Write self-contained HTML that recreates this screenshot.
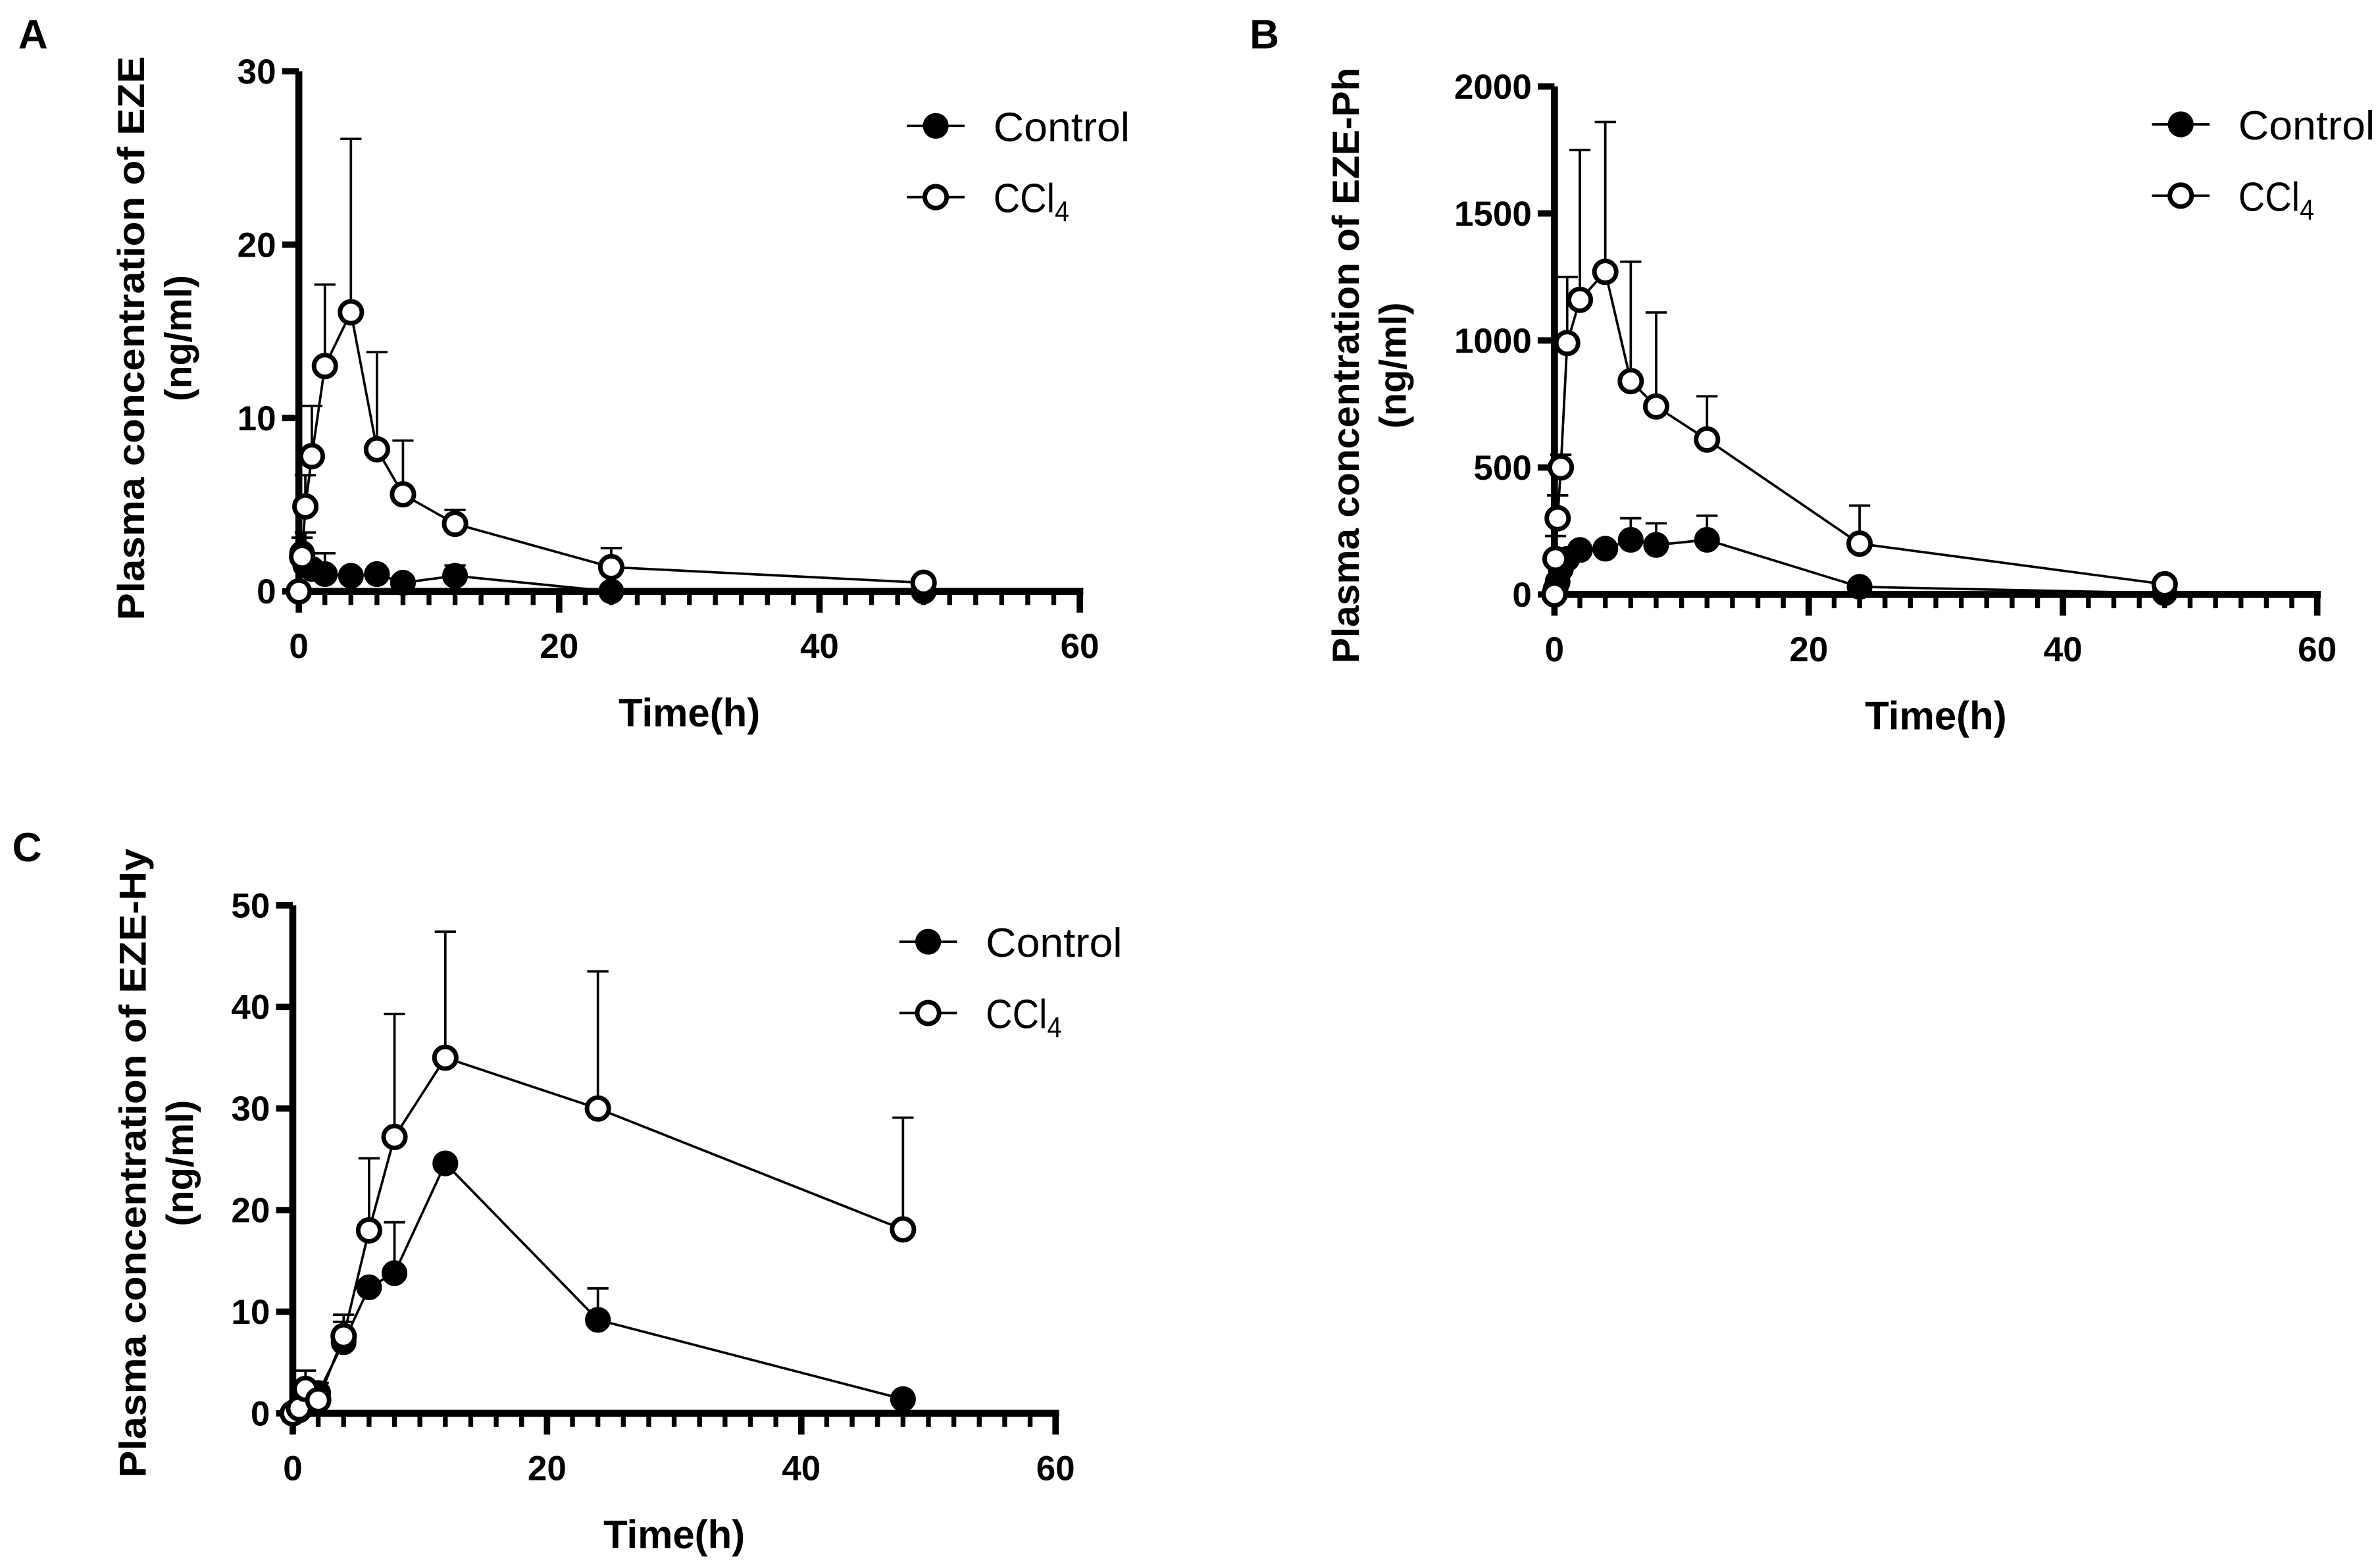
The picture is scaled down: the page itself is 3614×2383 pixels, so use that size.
<!DOCTYPE html>
<html><head><meta charset="utf-8"><style>
html,body{margin:0;padding:0;background:#fff;}
svg{display:block;}
text{font-family:"Liberation Sans",sans-serif;fill:#000;}
</style></head><body>
<svg id="fig" width="3614" height="2383" viewBox="0 0 1568 1034" xmlns="http://www.w3.org/2000/svg">
<rect width="1568" height="1034" fill="#fff"/>
</svg>
<script>
// Panel A (EZE)
const timesA = [0, 0.25, 0.5, 1, 2, 4, 6, 8, 12, 24, 48];
const ctrlA = [0, 2.2, 1.5, 1.3, 1.0, 0.9, 1.0, 0.5, 0.9, 0, 0];
const ctrlErrA = [0, 3.1, 3.4, 2.2, 2.2, 0, 0, 0, 1.5, 0, 0];
const cclA = [0, 2.0, 4.9, 7.8, 13.0, 16.1, 8.2, 5.6, 3.9, 1.4, 0.5];
const cclErrA = [0, 0, 6.7, 10.7, 17.7, 26.1, 13.8, 8.7, 4.7, 2.5, 0];
const yTicksA = [0, 10, 20, 30];
// Panel B (EZE-Ph)
const timesB = [0, 0.083, 0.25, 0.5, 1, 2, 4, 6, 8, 12, 24, 48];
const ctrlB = [0, 20, 50, 100, 140, 175, 180, 215, 195, 215, 30, 5];
const ctrlErrB = [0, 0, 0, 0, 0, 0, 0, 300, 280, 310, 0, 0];
const cclB = [0, 140, 300, 500, 990, 1160, 1270, 840, 740, 610, 200, 40];
const cclErrB = [0, 230, 390, 550, 1250, 1750, 1860, 1310, 1110, 780, 350, 0];
const yTicksB = [0, 500, 1000, 1500, 2000];
// Panel C (EZE-Hy)
const timesC = [0, 0.5, 1, 2, 4, 6, 8, 12, 24, 48];
const ctrlC = [0, 0.3, 0.8, 2.0, 7.0, 12.4, 13.8, 24.6, 9.2, 1.4];
const ctrlErrC = [0, 0, 0, 3.0, 9.0, 0, 18.8, 0, 12.3, 0];
const cclC = [0, 0.5, 2.4, 1.3, 7.6, 18.0, 27.2, 35.0, 30.0, 18.1];
const cclErrC = [0, 0, 4.2, 0, 9.7, 25.1, 39.3, 47.4, 43.5, 29.1];
const yTicksC = [0, 10, 20, 30, 40, 50];
const xTicks = [0, 20, 40, 60];

const NS = 'http://www.w3.org/2000/svg';
const svg = document.getElementById('fig');
function mk(tag, attrs, parent, txt) {
  const e = document.createElementNS(NS, tag);
  for (const k in attrs) e.setAttribute(k, attrs[k]);
  if (txt !== undefined) e.textContent = txt;
  (parent || svg).appendChild(e);
  return e;
}

function panel(cfg) {
  const g = mk('g', {});
  
  
  const xs = v => cfg.x0 + (v / 60) * (cfg.x1 - cfg.x0);
  const ys = v => cfg.y0 - (v / cfg.ymax) * (cfg.y0 - cfg.y1);
  const L = mk('text', {x: cfg.lx, y: cfg.ly, 'font-size': 27, 'font-weight': 'bold'}, g, cfg.letter);
  
  
  const ax = mk('g', {stroke: '#000', 'stroke-width': 4.6, fill: 'none'}, g);
  
  
  mk('line', {x1: cfg.x0, y1: cfg.y0 + 2.3, x2: cfg.x0, y2: cfg.y1}, ax);
  mk('line', {x1: cfg.x0 - 2.3, y1: cfg.y0, x2: cfg.x1 + 2.3, y2: cfg.y0}, ax);
  for (let t = 0; t <= 60; t += 2) {
    const major = t % 20 === 0;
    mk('line', {x1: xs(t), y1: cfg.y0, x2: xs(t), y2: cfg.y0 + (major ? 14 : 9), 'stroke-width': major ? 4.2 : 3.2}, ax);
  }
  xTicks.forEach(t => {
    const tl = mk('text', {x: xs(t), y: cfg.y0 + 44, 'font-size': 23, 'font-weight': 'bold', 'text-anchor': 'middle'}, g, String(t));
    
    
  });
  cfg.yticks.forEach(t => {
    mk('line', {x1: cfg.x0 - 11, y1: ys(t), x2: cfg.x0, y2: ys(t), 'stroke-width': 4.2}, ax);
    const tl = mk('text', {x: cfg.x0 - 15, y: ys(t) + 8, 'font-size': 23, 'font-weight': 'bold', 'text-anchor': 'end'}, g, String(t));
    
    
  });
  const xt = mk('text', {x: (cfg.x0 + cfg.x1) / 2, y: cfg.y0 + 89, 'font-size': 26, 'font-weight': 'bold', 'text-anchor': 'middle'}, g, 'Time(h)');
  
  
  const yt = mk('text', {transform: `translate(${cfg.tx},${cfg.ty}) rotate(-90)`, 'font-size': 25, 'font-weight': 'bold', 'text-anchor': 'middle'}, g);
  
  
  mk('tspan', {x: 0, y: 0, textLength: cfg.tlen, lengthAdjust: 'spacingAndGlyphs'}, yt, cfg.title);
  mk('tspan', {x: 0, y: 31}, yt, '(ng/ml)');

  function series(times, vals, errs, filled, nm) {
    const sg = mk('g', {}, g);
    
    
    times.forEach((t, i) => {
      if (errs[i] > vals[i]) {
        const eg = mk('g', {stroke: '#000', 'stroke-width': 1.6}, sg);
        
        
        mk('line', {x1: xs(t), y1: ys(vals[i]), x2: xs(t), y2: ys(errs[i])}, eg);
        mk('line', {x1: xs(t) - 7, y1: ys(errs[i]), x2: xs(t) + 7, y2: ys(errs[i])}, eg);
      }
    });
    const pts = times.map((t, i) => xs(t) + ',' + ys(vals[i])).join(' ');
    mk('polyline', {points: pts, fill: 'none', stroke: '#000', 'stroke-width': 1.6}, sg);
    times.forEach((t, i) => {
      const c = mk('circle', {cx: xs(t), cy: ys(vals[i]), r: filled ? 8 : 7.2, fill: filled ? '#000' : '#fff', stroke: '#000', 'stroke-width': filled ? 1 : 3}, sg);
      
      
    });
  }
  series(cfg.times, cfg.ctrl, cfg.ctrlErr, true, 'control-series');
  series(cfg.times, cfg.ccl, cfg.cclErr, false, 'ccl4-series');

  const lg = mk('g', {}, g);
  
  
  [[true, 'Control', 0], [false, 'CCl', 47]].forEach(([f, lbl, dy]) => {
    const eg = mk('g', {}, lg);
    
    
    mk('line', {x1: cfg.legx - 19, y1: cfg.legy + dy, x2: cfg.legx + 19, y2: cfg.legy + dy, stroke: '#000', 'stroke-width': 1.6}, eg);
    mk('circle', {cx: cfg.legx, cy: cfg.legy + dy, r: f ? 8 : 7.2, fill: f ? '#000' : '#fff', stroke: '#000', 'stroke-width': f ? 1 : 3}, eg);
    const tx = mk('text', {x: cfg.legx + 38, y: cfg.legy + dy + 10, 'font-size': 27, textLength: f ? 90 : 50, lengthAdjust: 'spacingAndGlyphs'}, eg, lbl);
    if (!f) mk('tspan', {dy: 6, 'font-size': 19}, tx, '4');
  });
}

panel({name: 'panel-a', letter: 'A', lx: 12, ly: 32, x0: 197, x1: 712, y0: 390, y1: 47, ymax: 30, yticks: yTicksA,
  title: 'Plasma concentration of EZE', tx: 95, ty: 223, tlen: 372, times: timesA, ctrl: ctrlA, ctrlErr: ctrlErrA, ccl: cclA, cclErr: cclErrA, legx: 617, legy: 83});
panel({name: 'panel-b', letter: 'B', lx: 824, ly: 32, x0: 1025, x1: 1528, y0: 392, y1: 57, ymax: 2000, yticks: yTicksB,
  title: 'Plasma concentration of EZE-Ph', tx: 896, ty: 241, tlen: 393, times: timesB, ctrl: ctrlB, ctrlErr: ctrlErrB, ccl: cclB, cclErr: cclErrB, legx: 1438, legy: 82});
panel({name: 'panel-c', letter: 'C', lx: 8, ly: 568, x0: 193, x1: 696, y0: 932, y1: 597, ymax: 50, yticks: yTicksC,
  title: 'Plasma concentration of EZE-Hy', tx: 96, ty: 767, tlen: 415, times: timesC, ctrl: ctrlC, ctrlErr: ctrlErrC, ccl: cclC, cclErr: cclErrC, legx: 612, legy: 621});
</script>
</body></html>
